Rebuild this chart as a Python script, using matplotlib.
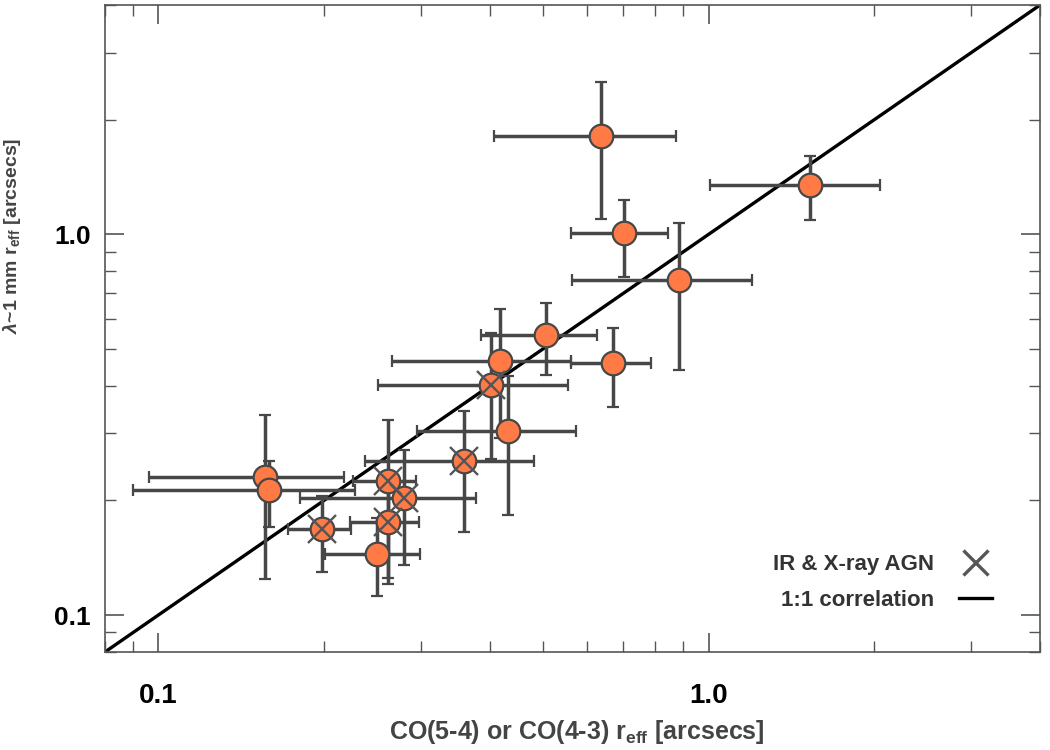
import matplotlib
matplotlib.use("Agg")
import matplotlib.pyplot as plt
import numpy as np

plt.rcParams['font.family'] = ['Liberation Sans', 'DejaVu Sans']
plt.rcParams['font.weight'] = 'bold'
plt.rcParams['mathtext.fontset'] = 'custom'
plt.rcParams['mathtext.rm'] = 'Liberation Sans:bold'
plt.rcParams['mathtext.it'] = 'Liberation Sans:italic:bold'

# CO size vs dust continuum size (arcsec)
co_r = [0.636, 1.53, 0.701, 0.882, 0.506, 0.417, 0.671, 0.402, 0.432,
        0.359, 0.261, 0.261, 0.279, 0.250, 0.198, 0.156, 0.159]
co_lo = [0.408, 1.007, 0.561, 0.565, 0.385, 0.266, 0.562, 0.251, 0.295,
         0.237, 0.226, 0.223, 0.181, 0.201, 0.172, 0.096, 0.090]
co_hi = [0.874, 2.05, 0.843, 1.199, 0.626, 0.561, 0.786, 0.556, 0.573,
         0.482, 0.294, 0.298, 0.378, 0.299, 0.224, 0.217, 0.228]
mm_r = [1.81, 1.35, 1.006, 0.758, 0.545, 0.464, 0.459, 0.403, 0.304,
        0.254, 0.225, 0.176, 0.203, 0.145, 0.168, 0.231, 0.213]
mm_lo = [1.10, 1.09, 0.774, 0.441, 0.427, 0.292, 0.351, 0.257, 0.183,
         0.165, 0.125, 0.121, 0.135, 0.112, 0.130, 0.124, 0.170]
mm_hi = [2.51, 1.61, 1.227, 1.073, 0.661, 0.635, 0.568, 0.551, 0.424,
         0.344, 0.326, 0.23, 0.271, 0.180, 0.205, 0.336, 0.254]
agn = [0, 0, 0, 0, 0, 0, 0, 1, 0, 1, 1, 1, 1, 0, 1, 0, 0]

lims = [0.08, 4.0]

fig = plt.figure(figsize=(10.5, 7.5), dpi=100)
ax = fig.add_axes([0.1, 0.1307, 0.8905, 0.8626])
ax.set_xscale('log')
ax.set_yscale('log')

ax.plot(lims, lims, color='black', lw=2.4, zorder=1, label='1:1 correlation')

gray = '#474747'
for i in range(len(co_r)):
    ax.errorbar(co_r[i], mm_r[i],
                xerr=[[co_r[i] - co_lo[i]], [co_hi[i] - co_r[i]]],
                yerr=[[mm_r[i] - mm_lo[i]], [mm_hi[i] - mm_r[i]]],
                fmt='o', ms=17, mfc='#FF7A45', mec=gray, mew=1.6,
                ecolor=gray, elinewidth=2.5, capsize=4, capthick=2.6,
                zorder=2 + i * 0.01)
    if agn[i]:
        ax.plot(co_r[i], mm_r[i], marker='x', ms=20, mew=1.7,
                color='#555555', ls='none', zorder=3)

# legend proxy
ax.plot([], [], marker='x', ms=18, mew=2.4, color='#555555', ls='none',
        label='IR & X-ray AGN')
h, l = ax.get_legend_handles_labels()
leg = ax.legend([h[1], h[0]], [l[1], l[0]], loc='lower right',
                bbox_to_anchor=(0.97, 0.032), frameon=False,
                markerfirst=False, alignment='right', handlelength=1.5,
                fontsize=16, labelspacing=0.7, handletextpad=1.1)
for t in leg.get_texts():
    t.set_color('#333333')

ax.set_xlim(lims)
ax.set_ylim(lims)
ax.set_xticks([0.1, 1.0])
ax.set_yticks([0.1, 1.0])
ax.set_xticklabels(['0.1', '1.0'], fontsize=20)
ax.set_yticklabels(['0.1', '1.0'], fontsize=19)
ax.tick_params(which='both', direction='in', top=True, right=True,
               color='#555555')
ax.tick_params(which='major', length=14, width=1.2, pad=22)
ax.tick_params(which='minor', length=8, width=1.0)
ax.tick_params(axis='y', which='major', pad=10)
for s in ax.spines.values():
    s.set_color('#555555')
    s.set_linewidth(1.2)

ax.set_xlabel(r'CO(5-4) or CO(4-3) r$_{\rm eff}$ [arcsecs]', fontsize=18,
              fontweight='bold', color='#444444')
ax.xaxis.set_label_coords(0.505, -0.102)
ax.set_ylabel(r'$\lambda$~1 mm r$_{\rm eff}$ [arcsecs]', fontsize=14,
              fontweight='bold', color='#444444')
ax.yaxis.set_label_coords(-0.088, 0.643)

fig.savefig('out.png', dpi=100)
